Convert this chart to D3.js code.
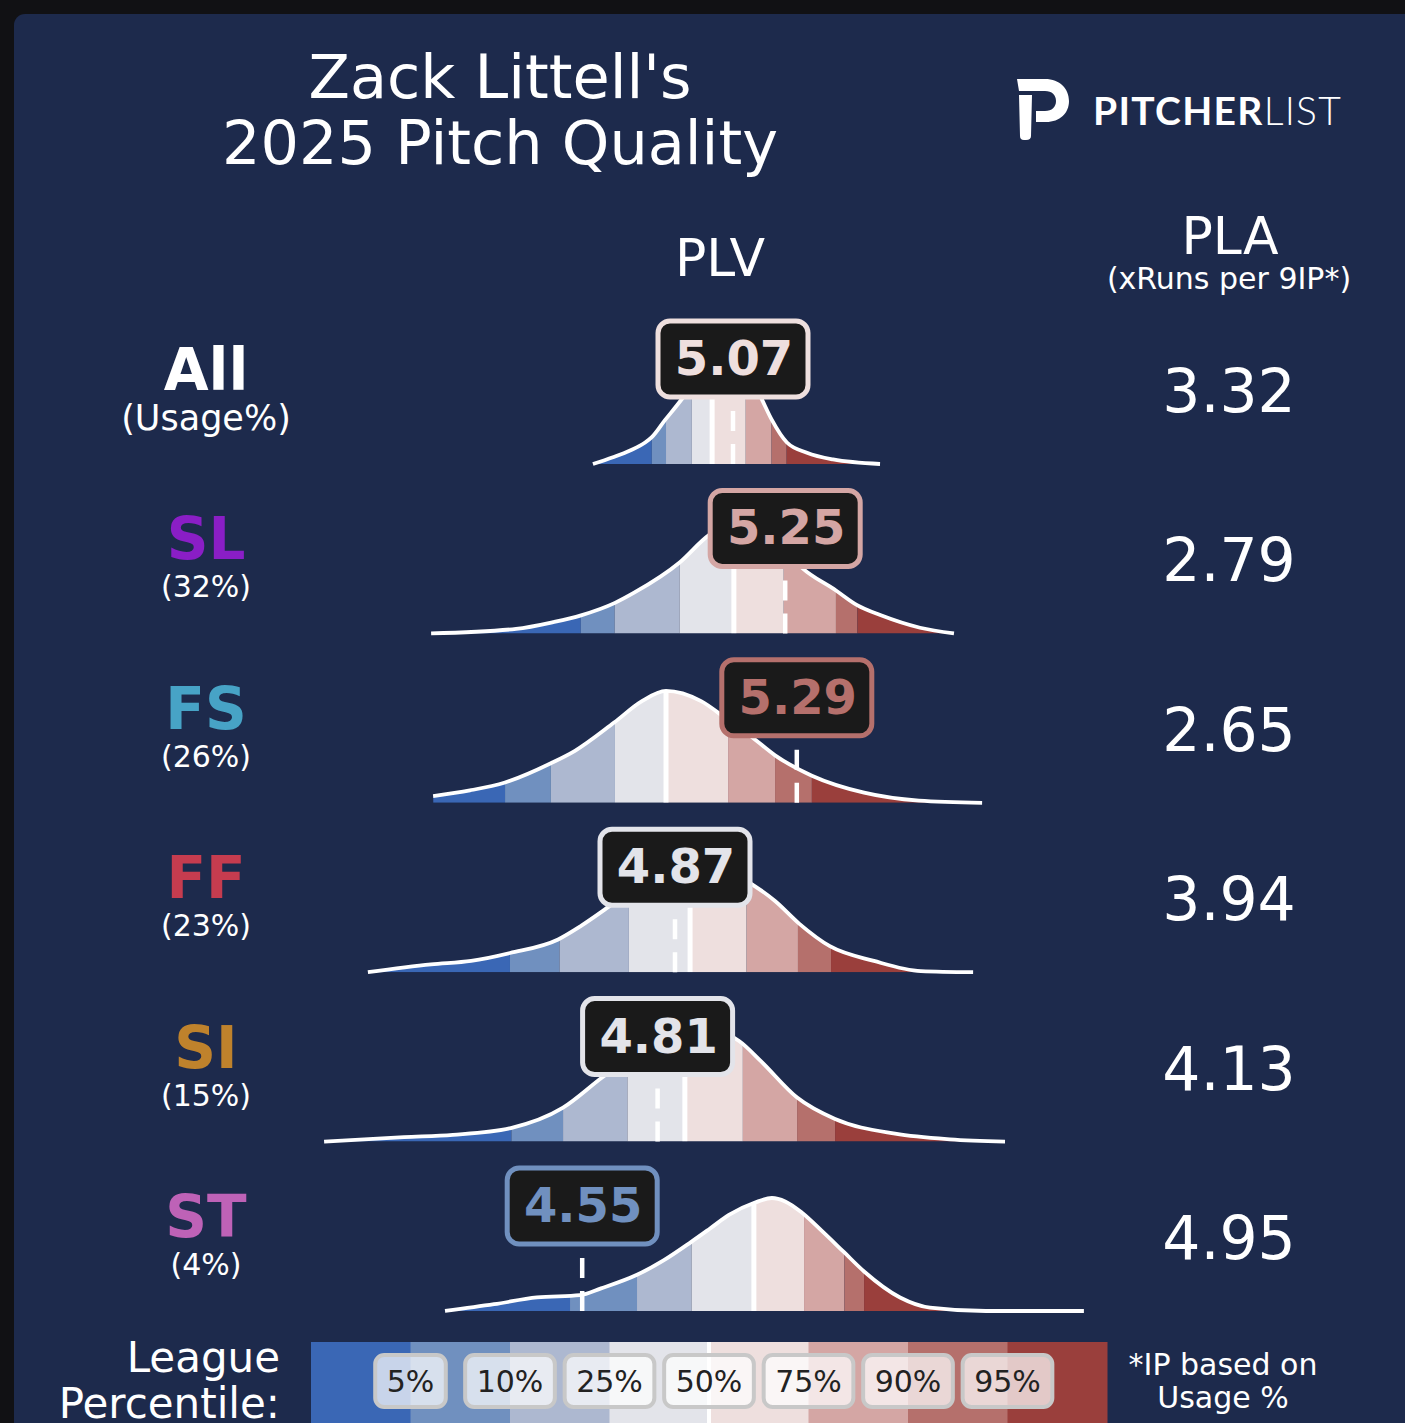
<!DOCTYPE html>
<html>
<head>
<meta charset="utf-8">
<script src="https://cdn.jsdelivr.net/npm/d3@7"></script>
<style>
  body { margin: 0; background: #111114; }
  svg { display: block; font-family: "DejaVu Sans", sans-serif; }
</style>
</head>
<body>
<div id="chart"></div>
<script>
// pitch rows
const pitches = ['All', 'SL', 'FS', 'FF', 'SI', 'ST']
const usage = [null, 32, 26, 23, 15, 4]
const pitchColors = ['#ffffff', '#8a1ec6', '#47a3c6', '#c63c4f', '#bf822c', '#be62b7']
const plv = [5.07, 5.25, 5.29, 4.87, 4.81, 4.55]
const pla = [3.32, 2.79, 2.65, 3.94, 4.13, 4.95]

// league percentile cut points (5, 10, 25, 50, 75, 90, 95) per row
const pctLabels = ['5%', '10%', '25%', '50%', '75%', '90%', '95%']
const bandColors = ['#3a67b5', '#7090bf', '#adb8d0', '#e3e4ea', '#eedfde', '#d4a6a4', '#b5706c', '#9a3f3c']
const leaguePct = [
  [4.790, 4.839, 4.928, 4.998, 5.114, 5.203, 5.255],
  [4.545, 4.662, 4.886, 5.073, 5.245, 5.425, 5.499],
  [4.284, 4.442, 4.663, 4.839, 5.053, 5.215, 5.342],
  [4.301, 4.472, 4.711, 4.922, 5.117, 5.294, 5.408],
  [4.306, 4.484, 4.706, 4.904, 5.104, 5.291, 5.422],
  [4.508, 4.739, 4.927, 5.142, 5.315, 5.454, 5.522]
]

// league PLV density per row, [plv, relative density]
const densAll = [[4.587, 0], [4.656, .06], [4.715, .12], [4.767, .19], [4.791, .24], [4.836, .39], [4.877, .52],
  [4.922, .67], [4.973, .84], [5.025, .97], [5.067, 1], [5.111, .88], [5.170, .57], [5.204, .39], [5.256, .19],
  [5.325, .10], [5.415, .04], [5.577, 0]]
const densSL = [[4.029, 0], [4.322, .04], [4.450, .10], [4.546, .16], [4.663, .27], [4.729, .36], [4.887, .63],
  [4.987, .87], [5.111, 1], [5.215, .84], [5.308, .58], [5.425, .38], [5.498, .25], [5.580, .16], [5.715, .05], [5.832, 0]]
const densFS = [[4.036, .06], [4.163, .11], [4.284, .18], [4.442, .35], [4.525, .46], [4.660, .71], [4.756, .90],
  [4.839, .99], [4.960, .90], [5.049, .74], [5.136, .58], [5.215, .42], [5.342, .24], [5.522, .09], [5.711, .02], [5.929, 0]]
const densFF = [[3.811, 0], [4.029, .07], [4.167, .10], [4.301, .17], [4.467, .29], [4.546, .41], [4.642, .58],
  [4.749, .78], [4.836, .93], [4.915, .99], [4.998, .96], [5.077, .86], [5.146, .76], [5.215, .63], [5.298, .43],
  [5.404, .23], [5.556, .10], [5.718, .01], [5.898, 0]]
const densSI = [[3.660, 0], [3.936, .04], [4.104, .06], [4.304, .12], [4.484, .30], [4.615, .56], [4.715, .75],
  [4.818, .90], [4.904, .98], [4.984, 1], [5.042, .96], [5.091, .89], [5.167, .71], [5.291, .39], [5.422, .20],
  [5.629, .07], [5.818, .02], [6.008, 0]]
const densST = [[4.077, 0], [4.246, .06], [4.394, .12], [4.542, .14], [4.615, .20], [4.739, .32], [4.832, .45],
  [4.925, .61], [4.991, .73], [5.056, .85], [5.146, .96], [5.204, 1], [5.250, .97], [5.308, .87], [5.380, .70],
  [5.453, .52], [5.522, .35], [5.646, .12], [5.749, .03], [5.942, 0], [6.280, 0]]
const densities = [densAll, densSL, densFS, densFF, densSI, densST]

const W = 1405, H = 1423

const svg = d3.select('#chart').append('svg')
  .attr('width', W)
  .attr('height', H)

svg.append('rect')
  .attr('x', 14).attr('y', 14)
  .attr('width', W + 40).attr('height', H + 40)
  .attr('rx', 11)
  .attr('fill', '#1d2a4c')

var x = d3.scaleLinear().domain([3.5, 6.5]).range([277.7, 1147.7])
var rowY = d3.scaleLinear().domain([0, 5]).range([464, 1311])
var hgt = d3.scaleLinear().domain([0, 1]).range([0, 113])

// title + headers
svg.append('text').attr('x', 500).attr('y', 98).attr('text-anchor', 'middle')
  .attr('fill', '#fff').style('font-size', '60.5px').text("Zack Littell's")
svg.append('text').attr('x', 500).attr('y', 164).attr('text-anchor', 'middle')
  .attr('fill', '#fff').style('font-size', '60.5px').text('2025 Pitch Quality')
svg.append('text').attr('x', 720).attr('y', 276).attr('text-anchor', 'middle')
  .attr('fill', '#fff').style('font-size', '52px').text('PLV')
svg.append('text').attr('x', 1230).attr('y', 254).attr('text-anchor', 'middle')
  .attr('fill', '#fff').style('font-size', '52px').text('PLA')
svg.append('text').attr('x', 1229).attr('y', 289).attr('text-anchor', 'middle')
  .attr('fill', '#fff').style('font-size', '30px').text('(xRuns per 9IP*)')

// pitcherlist logo
var logo = svg.append('g').attr('fill', '#fff')
logo.append('path')
  .attr('d', 'M1017,79 L1045,79 C1060,79 1069,89 1069,101 C1069,113 1060,122 1046,122 L1036,122 L1036,111 '
    + 'L1045,111 C1052,111 1056,107 1056,101 C1056,95 1052,91 1045,91 L1019,91 Z')
logo.append('path')
  .attr('d', 'M1019,95 L1032,95 L1031,136 Q1031,140 1026,140 L1024,140 Q1020,140 1020,136 Z')
var logoText = logo.append('text').attr('x', 1093).attr('y', 125)
  .style('font-family', 'Lato, sans-serif').style('font-size', '39px').style('letter-spacing', '1.3px')
logoText.append('tspan').style('font-weight', 700).text('PITCHER')
logoText.append('tspan').style('font-weight', 300).text('LIST')

var area = d3.area()
  .x(d => x(d[0]))
  .y0(0)
  .y1(d => -hgt(d[1]))
  .curve(d3.curveMonotoneX)
var line = d3.line()
  .x(d => x(d[0]))
  .y(d => -hgt(d[1]))
  .curve(d3.curveMonotoneX)

var defs = svg.append('defs')

pitches.forEach((p, i) => {
  var dens = densities[i]
  var pct = leaguePct[i]
  var g = svg.append('g').attr('transform', 'translate(0,' + rowY(i) + ')')

  defs.append('clipPath').attr('id', 'clip' + i)
    .append('path').attr('d', area(dens))

  var edges = [dens[0][0]].concat(pct, [dens[dens.length - 1][0]])
  g.selectAll('rect.band')
    .data(d3.range(8))
    .enter()
    .append('rect')
      .attr('class', 'band')
      .attr('x', j => x(edges[j]))
      .attr('width', j => x(edges[j + 1]) - x(edges[j]))
      .attr('y', -140)
      .attr('height', 141)
      .attr('fill', j => bandColors[j])
      .attr('clip-path', 'url(#clip' + i + ')')

  g.append('line')
    .attr('x1', x(pct[3])).attr('x2', x(pct[3]))
    .attr('y1', 0).attr('y2', -140)
    .attr('stroke', '#fff').attr('stroke-width', 5)
    .attr('clip-path', 'url(#clip' + i + ')')

  g.append('path')
    .attr('d', line(dens))
    .attr('fill', 'none')
    .attr('stroke', '#fff')
    .attr('stroke-width', 3.8)

  var color = bandColors[d3.bisectRight(pct, plv[i])]

  g.append('line')
    .attr('x1', x(plv[i])).attr('x2', x(plv[i]))
    .attr('y1', 0).attr('y2', -66)
    .attr('stroke', '#fff').attr('stroke-width', 4.5)
    .attr('stroke-dasharray', '20,13')

  g.append('rect')
    .attr('x', x(plv[i]) - 75).attr('y', -143)
    .attr('width', 150).attr('height', 76)
    .attr('rx', 12)
    .attr('fill', '#1a1a1a')
    .attr('stroke', color).attr('stroke-width', 5)
  g.append('text')
    .attr('x', x(plv[i]) + 1).attr('y', -89)
    .attr('text-anchor', 'middle')
    .attr('fill', color)
    .style('font-size', '48px').style('font-weight', 'bold')
    .text(plv[i].toFixed(2))

  g.append('text')
    .attr('x', 206).attr('y', -74)
    .attr('text-anchor', 'middle')
    .attr('fill', pitchColors[i])
    .style('font-size', '58px').style('font-weight', 'bold')
    .text(p)
  g.append('text')
    .attr('x', 206).attr('y', usage[i] == null ? -34 : -36)
    .attr('text-anchor', 'middle')
    .attr('fill', '#fff')
    .style('font-size', usage[i] == null ? '35px' : '30px')
    .text(usage[i] == null ? '(Usage%)' : '(' + usage[i] + '%)')

  g.append('text')
    .attr('x', 1229).attr('y', -52)
    .attr('text-anchor', 'middle')
    .attr('fill', '#fff')
    .style('font-size', '60px')
    .text(pla[i].toFixed(2))
})

// legend
var legX = d3.scaleLinear().domain([0, 8]).range([311, 1107])
svg.selectAll('rect.leg')
  .data(bandColors)
  .enter()
  .append('rect')
    .attr('class', 'leg')
    .attr('x', (d, j) => legX(j))
    .attr('width', legX(1) - legX(0) + 0.5)
    .attr('y', 1342)
    .attr('height', 100)
    .attr('fill', d => d)
svg.append('line')
  .attr('x1', legX(4)).attr('x2', legX(4))
  .attr('y1', 1342).attr('y2', 1423)
  .attr('stroke', '#fff').attr('stroke-width', 4)

var labs = svg.selectAll('g.lab')
  .data(pctLabels)
  .enter()
  .append('g')
    .attr('class', 'lab')
    .attr('transform', (d, j) => 'translate(' + legX(j + 1) + ',0)')
labs.append('rect').attr('class', 'bg')
labs.append('text')
  .attr('y', 1392)
  .attr('text-anchor', 'middle')
  .attr('fill', '#222')
  .style('font-size', '30px')
  .text(d => d)
labs.each(function() {
  var w = d3.select(this).select('text').node().getComputedTextLength() + 23
  d3.select(this).select('rect')
    .attr('x', -w / 2).attr('width', w)
    .attr('y', 1355).attr('height', 52)
    .attr('rx', 9)
    .attr('fill', 'rgba(255,255,255,0.72)')
    .attr('stroke', '#c8c8c8').attr('stroke-width', 4)
})

svg.append('text').attr('x', 280).attr('y', 1372).attr('text-anchor', 'end')
  .attr('fill', '#fff').style('font-size', '42px').text('League')
svg.append('text').attr('x', 280).attr('y', 1418).attr('text-anchor', 'end')
  .attr('fill', '#fff').style('font-size', '42px').text('Percentile:')
svg.append('text').attr('x', 1223).attr('y', 1375).attr('text-anchor', 'middle')
  .attr('fill', '#fff').style('font-size', '30px').text('*IP based on')
svg.append('text').attr('x', 1223).attr('y', 1408).attr('text-anchor', 'middle')
  .attr('fill', '#fff').style('font-size', '30px').text('Usage %')
</script>
</body>
</html>
